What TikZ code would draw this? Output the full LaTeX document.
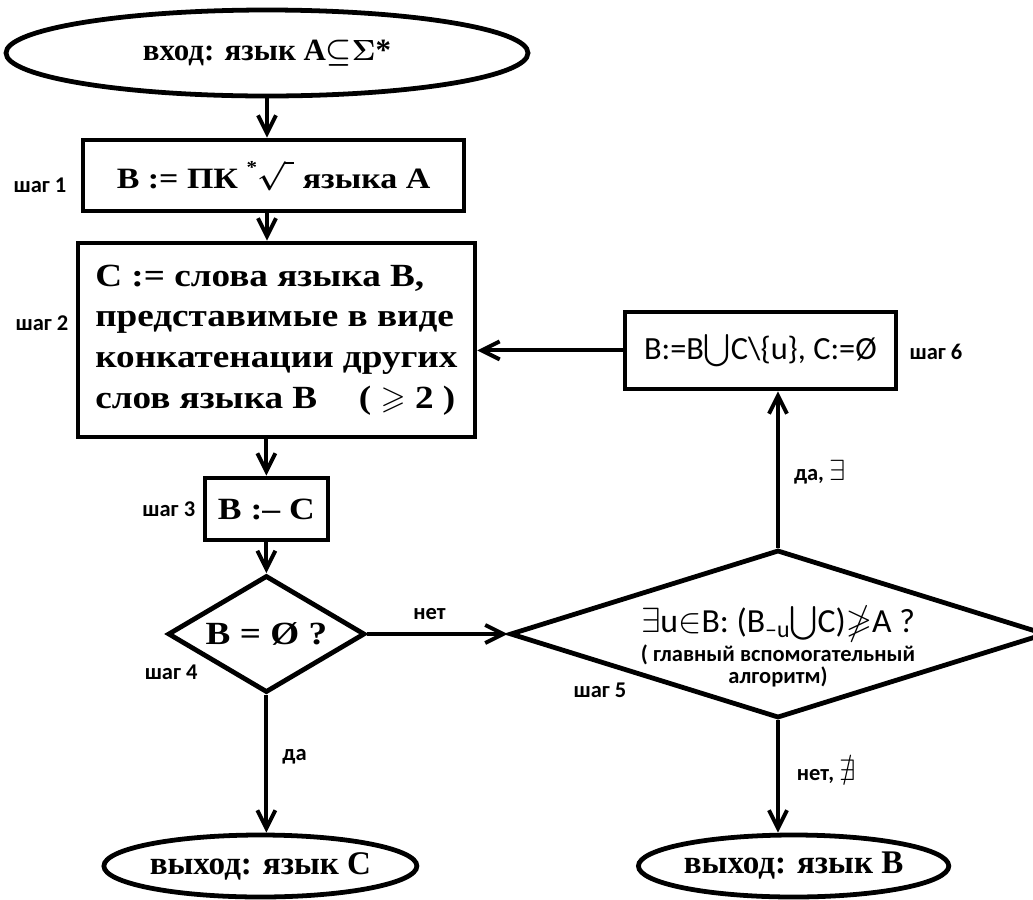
\documentclass[tikz,border=0pt]{standalone}
\usepackage{fontspec}
\usepackage{amssymb}
\setmainfont{Liberation Serif}
\newfontfamily\calib{Carlito}
\newfontfamily\cambr[FakeStretch=1.15]{Liberation Serif}
\usetikzlibrary{arrows.meta, positioning, shapes.geometric}
\newcommand{\subfnt}{\calib\bfseries\fontsize{16}{14}\selectfont}
\newcommand{\bigsym}[1]{{\fontsize{21}{21}\selectfont$#1$}}

\begin{document}
\begin{tikzpicture}[
    box/.style={rectangle, draw, line width=3.4pt, inner sep=0pt,
                font=\cambr\bfseries\boldmath\fontsize{#1}{29}\selectfont},
    box/.default=22,
    term/.style={ellipse, draw, line width=3.4pt, inner sep=0pt,
                 font=\bfseries\boldmath\fontsize{#1}{24}\selectfont},
    term/.default=22,
    cond/.style={diamond, draw, line width=3.4pt, inner sep=0pt},
    steplbl/.style={font=\calib\bfseries\fontsize{16}{18}\selectfont, inner sep=1pt},
    arr/.style={line width=2.8pt, -{Straight Barb[length=0.45cm, width=0.45cm]}},
  ]
    \useasboundingbox (0,0) rectangle (25.825,-22.475);
    \clip (0,0) rectangle (25.825,-22.475);

    % left column
    \node[term, minimum width=13.05cm, minimum height=2.15cm] (in) at (6.675,-1.325)
      {вход: язык A${\subseteq}{\Sigma}$*};
    \node[box=21, minimum width=9.525cm, minimum height=1.775cm] (s1) at (6.84,-4.39)
      {B := ПК \raisebox{1.1ex}{\fontsize{13}{13}\selectfont*}$\sqrt{\vphantom{A}\;}$ языка A};
    \node[box=23, minimum width=9.925cm, minimum height=4.85cm, align=left] (s2) at (6.91,-8.5)
      {C := слова языка B,\\представимые в виде\\конкатенации других\\слов языка B \quad ( $\geqslant$ 2 )};
    \node[box, minimum width=3.075cm, minimum height=1.55cm] (s3) at (6.66,-12.725) {B :– C};
    \node[cond, aspect=1.68, minimum width=4.925cm, minimum height=2.925cm,
          font=\cambr\bfseries\fontsize{23}{26}\selectfont] (d4) at (6.66,-15.85) {B = Ø ?};
    \node[term=23.5, minimum width=7.825cm, minimum height=1.55cm] (outC) at (6.51,-21.65) {выход: язык C};

    % right column
    \node[cond, minimum width=13.4cm, minimum height=4.2cm] (d5) at (19.45,-15.85) {};
    \node[font=\calib\fontsize{24}{14}\selectfont, align=center] (d5txt) at ([yshift=-0.3cm]d5.center)
      {$\exists$u$\in$B: (B\raisebox{-0.35ex}{\fontsize{17}{18}\selectfont –u}$\bigcup$C)$\ngeqslant$A ?\\[1pt]
       \subfnt( главный вспомогательный\\ \subfnt алгоритм)};
    \node[rectangle, draw, line width=3.4pt, minimum width=6.775cm, minimum height=1.925cm,
          font=\calib\fontsize{23}{26}\selectfont] (s6) at (19.01,-8.76)
      {B:=B$\bigcup$C\textbackslash\{u\}, C:=Ø};
    \node[term=23.5, minimum width=7.575cm, minimum height=1.55cm] (outB) at (19.84,-21.65) {выход: язык B};

    % step labels
    \node[steplbl] (l1) at (1.0,-4.62) {шаг 1};
    \node[steplbl] (l2) at (1.05,-8.08) {шаг 2};
    \node[steplbl] (l3) at (4.22,-12.72) {шаг 3};
    \node[steplbl] (l4) at (4.28,-16.8) {шаг 4};
    \node[steplbl] (l5) at (15.0,-17.25) {шаг 5};
    \node[steplbl] (l6) at (23.4,-8.8) {шаг 6};

    % connectors
    \draw[arr] (in) -- (in |- s1.north);
    \draw[arr] (s1.south -| in) -- (s2.north -| in);
    \draw[arr] (s2.south -| s3) -- (s3.north);
    \draw[arr] (s3) -- (d4);
    \draw[arr] (d4) -- (d5)
      node[steplbl, midway, above=8pt, xshift=-0.2cm] (noA) {нет};
    \draw[arr] (d4) -- (d4 |- outC.north)
      node[steplbl, pos=0.45, right=9pt] (yesA) {да};
    \draw[arr] (d5) -- (d5 |- s6.south)
      node[steplbl, pos=0.48, right=9pt] (yesB) {да, \bigsym{\exists}};
    \draw[arr] (d5) -- (d5 |- outB.north)
      node[steplbl, pos=0.46, right=11pt] (noB) {нет, \bigsym{\nexists}};
    \draw[arr] (s6) -- (s6 -| s2.east);
\end{tikzpicture}
\end{document}
